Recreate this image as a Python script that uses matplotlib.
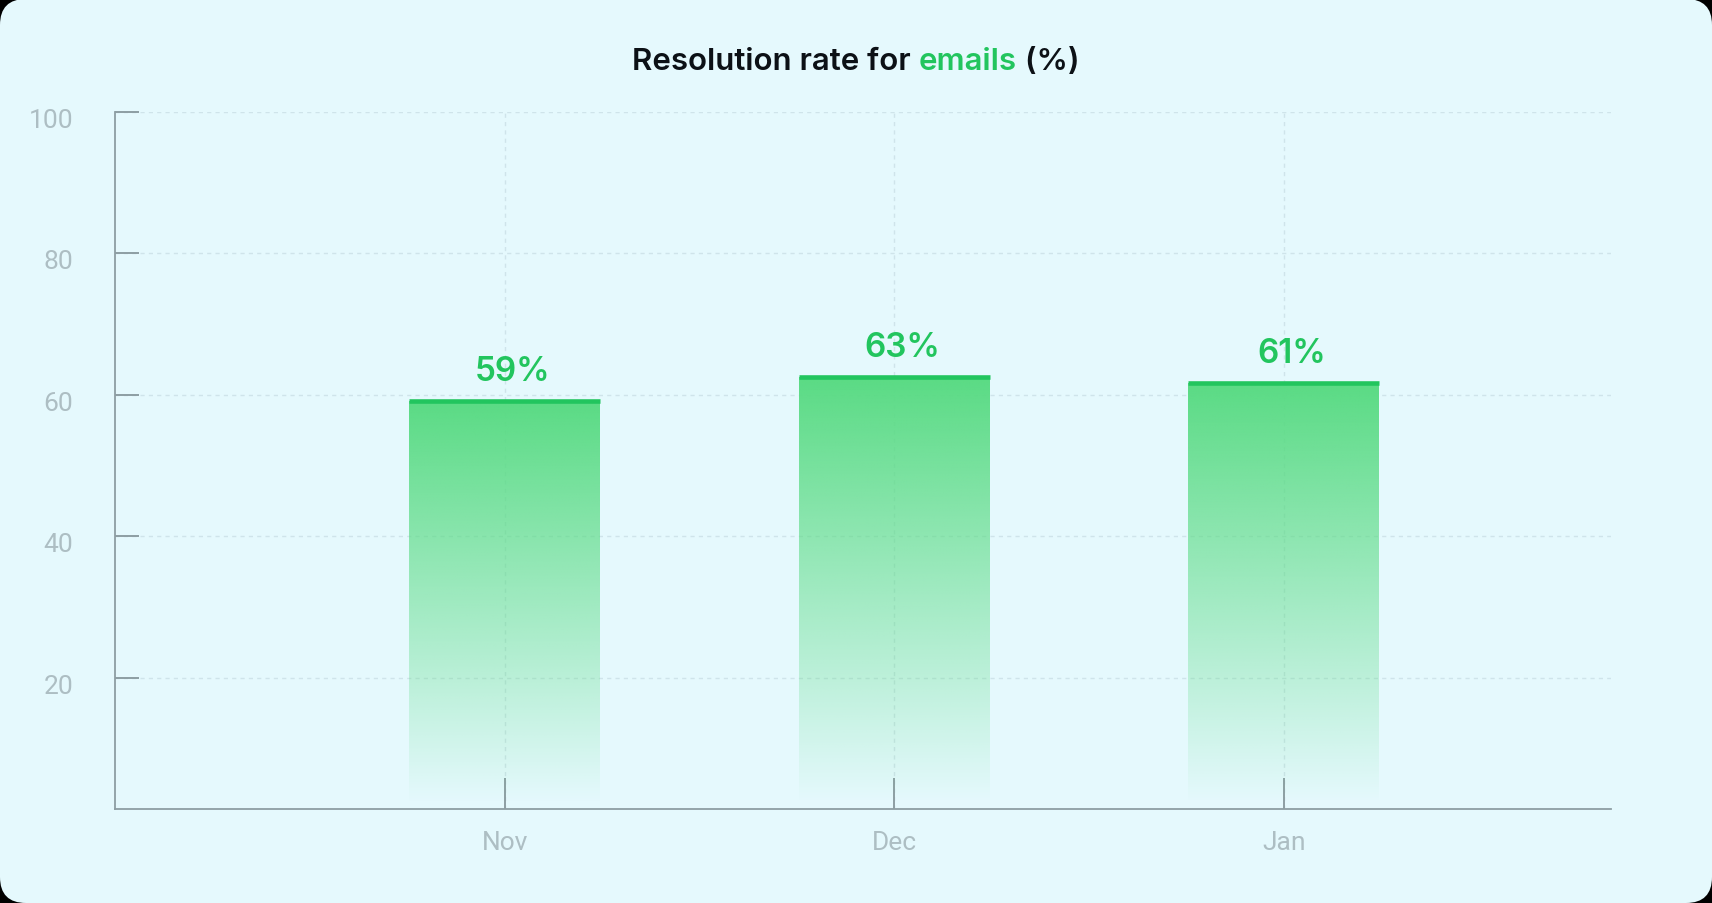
import numpy as np
import matplotlib
matplotlib.use("Agg")
import matplotlib.pyplot as plt
from matplotlib.patches import FancyBboxPatch
from matplotlib.colors import to_rgb
import matplotlib.transforms as mtransforms

# ---- data ----
months = ["Nov", "Dec", "Jan"]
values = [59.1, 62.5, 61.7]
value_labels = ["59%", "63%", "61%"]
yticks = [20, 40, 60, 80, 100]
title_parts = ["Resolution rate for ", "emails", " (%)"]

# ---- style ----
BG = "#e5f9fd"
GREEN = "#22c55e"
BAR = "#5adb84"
AXIS = "#8d9ea3"
TICKLBL = "#adbec3"
GRID = "#cfe4ea"
TITLE = "#0c1116"

W, H, DPI = 17.12, 9.04, 100
fig = plt.figure(figsize=(W, H), dpi=DPI)
fig.patch.set_facecolor("black")
bg = FancyBboxPatch((0, 0), W, H, boxstyle="round,pad=0,rounding_size=0.26",
                    transform=fig.dpi_scale_trans, facecolor=BG, edgecolor="none", zorder=-10)
fig.patches.append(bg)

ax = fig.add_axes([115/1712, 1 - 810/904, (1611-115)/1712, (810-112.5)/904])
ax.set_facecolor("none")
ax.set_zorder(1)

x = np.arange(len(months))
bw = 0.49
bars = ax.bar(x, values, width=bw, color="none", edgecolor="none", zorder=2)

# gradient fill
rgb = np.array(to_rgb(BAR))
for b in bars:
    x0, y0 = b.get_x(), b.get_y()
    w, h = b.get_width(), b.get_height()
    n = 256
    alpha = np.linspace(0.0, 1.0, n)
    alpha = np.clip((alpha - 0.04) / 0.96, 0, 1)
    img = np.zeros((n, 1, 4))
    img[:, 0, :3] = rgb
    img[:, 0, 3] = alpha
    im = ax.imshow(img, extent=(x0, x0 + w, y0, y0 + h), origin="lower",
                   aspect="auto", zorder=2, interpolation="bilinear")
    im.set_clip_path(b)

# top line of bars
ax.hlines(values, x - bw/2, x + bw/2, colors=GREEN, linewidth=3.3, zorder=3,
          capstyle="butt")

# value labels
for xi, v, lab in zip(x, values, value_labels):
    ax.annotate(lab, (xi, v), xytext=(6, 15), textcoords="offset points",
                ha="center", va="baseline", color=GREEN, fontsize=24,
                family="Inter", fontweight="semibold", zorder=4)

ax.set_xlim(-1.0, 2.84)
ax.set_ylim(1.5, 100)
ax.set_xticks(x)
ax.set_xticklabels(months)
ax.set_yticks(yticks)

for s in ["top", "right"]:
    ax.spines[s].set_visible(False)
for s in ["left", "bottom"]:
    ax.spines[s].set_color(AXIS)
    ax.spines[s].set_linewidth(1.3)

ax.tick_params(axis="y", direction="in", length=17, width=1.4, color=AXIS,
               pad=30, labelsize=19, labelcolor=TICKLBL)
ax.tick_params(axis="x", direction="in", length=22, width=1.4, color=AXIS,
               pad=15, labelsize=19, labelcolor=TICKLBL)
shift = mtransforms.ScaledTranslation(0, -4/72, fig.dpi_scale_trans)
for lbl in ax.get_xticklabels() + ax.get_yticklabels():
    lbl.set_family("Roboto")
    lbl.set_fontweight("normal")
for lbl in ax.get_yticklabels():
    lbl.set_transform(lbl.get_transform() + shift)

ax.grid(True, color=GRID, linewidth=1.0, linestyle=(0, (3, 3)), zorder=1)
ax.set_axisbelow(True)

# title with coloured word
renderer = fig.canvas.get_renderer()
colors = [TITLE, GREEN, TITLE]
texts = []
for part, c in zip(title_parts, colors):
    t = fig.text(0, 0, part, color=c, fontsize=22.5, family="Inter",
                 fontweight="semibold", va="center", ha="left")
    texts.append(t)
widths = [t.get_window_extent(renderer).width for t in texts]
total = sum(widths)
xpos = (1712 - total) / 2
ypos = 1 - 62/904
for t, wd in zip(texts, widths):
    t.set_position((xpos / 1712, ypos))
    xpos += wd

fig.savefig("out.png", dpi=DPI, facecolor=fig.get_facecolor())
